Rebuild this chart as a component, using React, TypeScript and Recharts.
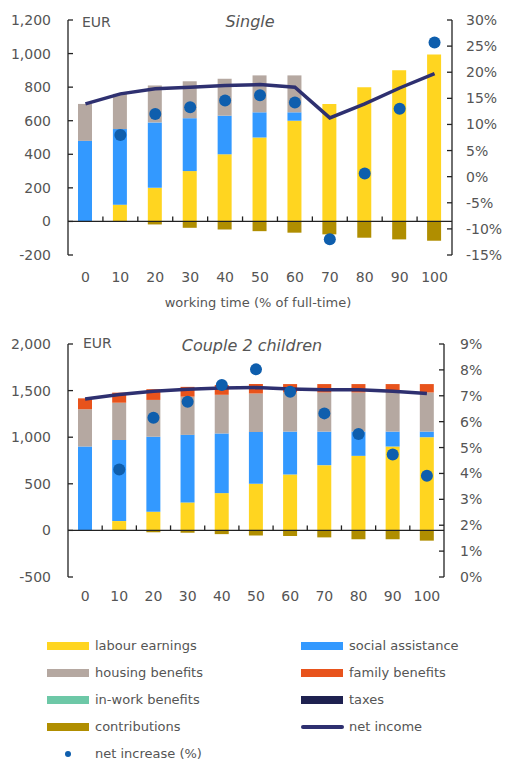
import React from 'react';
import { ComposedChart, Bar, Line, XAxis, YAxis, ReferenceLine } from 'recharts';

const categories = ['0', '10', '20', '30', '40', '50', '60', '70', '80', '90', '100'];

// Single
const labourS = [0, 100, 200, 300, 400, 500, 600, 700, 800, 900, 995];
const socialS = [480, 450, 390, 315, 230, 150, 50, 0, 0, 0, 0];
const housingS = [220, 210, 220, 220, 220, 220, 220, 0, 0, 0, 0];
const familyS = [0, 0, 0, 0, 0, 0, 0, 0, 0, 0, 0];
const inWorkS = [0, 0, 0, 0, 0, 0, 0, 0, 0, 0, 0];
const taxesS = [0, 0, 0, 0, 0, 0, 0, 0, 0, 0, 0];
const contribS = [0, 0, -18, -38, -48, -58, -67, -77, -97, -107, -115];
const netIncomeS = [700, 760, 790, 800, 810, 815, 800, 617, 700, 795, 880];
const netIncS = [null, 8.0, 12.0, 13.3, 14.6, 15.6, 14.2, -12.0, 0.6, 13.0, 25.7];

// Couple 2 children
const labourC = [0, 100, 200, 300, 400, 500, 600, 700, 800, 900, 1000];
const socialC = [900, 870, 805, 725, 640, 555, 460, 360, 260, 160, 60];
const housingC = [400, 400, 395, 410, 415, 415, 420, 420, 420, 420, 420];
const familyC = [117, 108, 115, 105, 105, 100, 90, 90, 90, 90, 90];
const inWorkC = [0, 0, 0, 0, 0, 0, 0, 0, 0, 0, 0];
const taxesC = [0, 0, 0, 0, 0, 0, 0, 0, 0, 0, 0];
const contribC = [0, 0, -20, -25, -40, -55, -60, -75, -95, -95, -110];
const netIncomeC = [1410, 1458, 1492, 1515, 1528, 1532, 1518, 1510, 1508, 1492, 1468];
const netIncC = [null, 4.15, 6.15, 6.77, 7.42, 8.02, 7.16, 6.32, 5.52, 4.73, 3.91];

const leftTicksS = [-200, 0, 200, 400, 600, 800, 1000, 1200];
const rightTicksS = [-15, -10, -5, 0, 5, 10, 15, 20, 25, 30];
const leftTicksC = [-500, 0, 500, 1000, 1500, 2000];
const rightTicksC = [0, 1, 2, 3, 4, 5, 6, 7, 8, 9];

const legendItems = [
  { label: 'labour earnings', color: '#FFD520', kind: 'bar' },
  { label: 'social assistance', color: '#3399FF', kind: 'bar' },
  { label: 'housing benefits', color: '#B5A8A1', kind: 'bar' },
  { label: 'family benefits', color: '#E8531C', kind: 'bar' },
  { label: 'in-work benefits', color: '#6DC8A7', kind: 'bar' },
  { label: 'taxes', color: '#1E2150', kind: 'bar' },
  { label: 'contributions', color: '#B08E00', kind: 'bar' },
  { label: 'net income', color: '#2E3070', kind: 'line' },
  { label: 'net increase (%)', color: '#0E5EAD', kind: 'dot' },
];

const COLORS = {
  labour: '#FFD520',
  social: '#3399FF',
  housing: '#B5A8A1',
  family: '#E8531C',
  inWork: '#6DC8A7',
  taxes: '#1E2150',
  contrib: '#B08E00',
  net: '#2E3070',
  dot: '#0E5EAD',
};

const FONT = "'DejaVu Sans', sans-serif";
const TEXT = '#555555';

function build(lab, soc, hou, fam, inw, tax, con, net, inc) {
  return categories.map((c, i) => ({
    cat: c,
    labour: lab[i],
    social: soc[i],
    housing: hou[i],
    family: fam[i],
    inWork: inw[i],
    taxes: tax[i],
    contrib: con[i],
    net: net[i],
    inc: inc[i],
  }));
}

const dataS = build(labourS, socialS, housingS, familyS, inWorkS, taxesS, contribS, netIncomeS, netIncS);
const dataC = build(labourC, socialC, housingC, familyC, inWorkC, taxesC, contribC, netIncomeC, netIncC);

const fmtNum = (v) => Number(v).toLocaleString('en-US');
const fmtPct = (v) => `${v}%`;

const zeroShape = (n) => (p) => {
  const { x1, x2, y1 } = p;
  const ticks = [];
  for (let k = 1; k < n; k++) {
    const x = x1 + ((x2 - x1) * k) / n;
    ticks.push(<line key={k} x1={x} x2={x} y1={y1} y2={y1 - 5} stroke="#222" strokeWidth={1.3} />);
  }
  return (
    <g>
      <line x1={x1} x2={x2} y1={y1} y2={y1} stroke="#222" strokeWidth={1.3} />
      {ticks}
    </g>
  );
};

function Panel({ data, width, height, marginTop, rightWidth, xHeight, leftDomain, leftTicks, rightDomain, rightTicks, xTickMargin, rightTickMargin }) {
  const tickStyle = { fill: TEXT, fontSize: 14, fontFamily: FONT };
  return (
    <ComposedChart
      width={width}
      height={height}
      data={data}
      stackOffset="sign"
      barSize={14}
      margin={{ top: marginTop, right: 0, bottom: 0, left: 0 }}
    >
      <XAxis
        dataKey="cat"
        xAxisId={0}
        axisLine={false}
        tickLine={false}
        height={xHeight}
        tickMargin={xTickMargin}
        tick={tickStyle}
        interval={0}
      />
      <YAxis
        yAxisId="left"
        orientation="left"
        width={68}
        domain={leftDomain}
        ticks={leftTicks}
        allowDataOverflow
        tickFormatter={fmtNum}
        axisLine={{ stroke: '#222', strokeWidth: 1.3 }}
        tickLine={{ stroke: '#222', strokeWidth: 1.3 }}
        tickSize={-5}
        tickMargin={22}
        tick={tickStyle}
        interval={0}
      />
      <YAxis
        yAxisId="right"
        orientation="right"
        width={rightWidth}
        domain={rightDomain}
        ticks={rightTicks}
        allowDataOverflow
        tickFormatter={fmtPct}
        axisLine={{ stroke: '#222', strokeWidth: 1.3 }}
        tickLine={{ stroke: '#222', strokeWidth: 1.3 }}
        tickSize={-5}
        tickMargin={rightTickMargin}
        tick={{ ...tickStyle, textAnchor: 'start' }}
        interval={0}
      />
      <Bar dataKey="labour" stackId="a" yAxisId="left" fill={COLORS.labour} isAnimationActive={false} />
      <Bar dataKey="social" stackId="a" yAxisId="left" fill={COLORS.social} isAnimationActive={false} />
      <Bar dataKey="housing" stackId="a" yAxisId="left" fill={COLORS.housing} isAnimationActive={false} />
      <Bar dataKey="family" stackId="a" yAxisId="left" fill={COLORS.family} isAnimationActive={false} />
      <Bar dataKey="inWork" stackId="a" yAxisId="left" fill={COLORS.inWork} isAnimationActive={false} />
      <Bar dataKey="taxes" stackId="a" yAxisId="left" fill={COLORS.taxes} isAnimationActive={false} />
      <Bar dataKey="contrib" stackId="a" yAxisId="left" fill={COLORS.contrib} isAnimationActive={false} />
      <ReferenceLine y={0} yAxisId="left" shape={zeroShape(categories.length)} />
      <Line
        dataKey="net"
        yAxisId="left"
        type="linear"
        stroke={COLORS.net}
        strokeWidth={3.5}
        dot={false}
        activeDot={false}
        isAnimationActive={false}
      />
      <Line
        dataKey="inc"
        yAxisId="right"
        stroke="none"
        dot={{ r: 6, fill: COLORS.dot, stroke: 'none' }}
        activeDot={false}
        isAnimationActive={false}
      />
    </ComposedChart>
  );
}

const abs = (left, top, extra = {}) => ({ position: 'absolute', left, top, ...extra });

export default function App() {
  return (
    <div style={{ position: 'absolute', left: 0, top: 0, width: 509, height: 763, background: '#fff', fontFamily: FONT, color: TEXT }}>
      <div style={abs(0, 0)}>
        <Panel
          data={dataS}
          width={509}
          height={320}
          marginTop={20}
          rightWidth={57}
          xHeight={65}
          leftDomain={[-200, 1200]}
          leftTicks={leftTicksS}
          rightDomain={[-15, 30]}
          rightTicks={rightTicksS}
          xTickMargin={11}
          rightTickMargin={19}
        />
      </div>
      <div style={abs(82, 14, { fontSize: 14, lineHeight: '16px' })}>EUR</div>
      <div style={abs(200, 13, { width: 100, textAlign: 'center', fontSize: 16, fontStyle: 'italic', lineHeight: '18px' })}>Single</div>
      <div style={abs(0, 295, { width: 516, textAlign: 'center', fontSize: 13, lineHeight: '16px' })}>working time (% of full-time)</div>

      <div style={abs(0, 320)}>
        <Panel
          data={dataC}
          width={509}
          height={300}
          marginTop={24}
          rightWidth={65}
          xHeight={43}
          leftDomain={[-500, 2000]}
          leftTicks={leftTicksC}
          rightDomain={[0, 9]}
          rightTicks={rightTicksC}
          xTickMargin={8}
          rightTickMargin={21}
        />
      </div>
      <div style={abs(83, 335, { fontSize: 14, lineHeight: '16px' })}>EUR</div>
      <div style={abs(152, 337, { width: 200, textAlign: 'center', fontSize: 16, fontStyle: 'italic', lineHeight: '18px' })}>Couple 2 children</div>

      {legendItems.map((it, i) => {
        const col = i % 2;
        const row = Math.floor(i / 2);
        const sx = col === 0 ? 47 : 301;
        const cy = 646 + row * 27;
        return (
          <div key={it.label}>
            {it.kind === 'bar' && (
              <div style={abs(sx, cy - 4, { width: 42, height: 8, background: it.color })} />
            )}
            {it.kind === 'line' && (
              <div style={abs(sx, cy - 2, { width: 43, height: 4, borderRadius: 2, background: it.color })} />
            )}
            {it.kind === 'dot' && (
              <div style={abs(sx + 18, cy - 3, { width: 6, height: 6, borderRadius: 3, background: it.color })} />
            )}
            <div style={abs(sx + 48, cy - 8, { fontSize: 13, lineHeight: '16px', whiteSpace: 'nowrap' })}>{it.label}</div>
          </div>
        );
      })}
    </div>
  );
}
